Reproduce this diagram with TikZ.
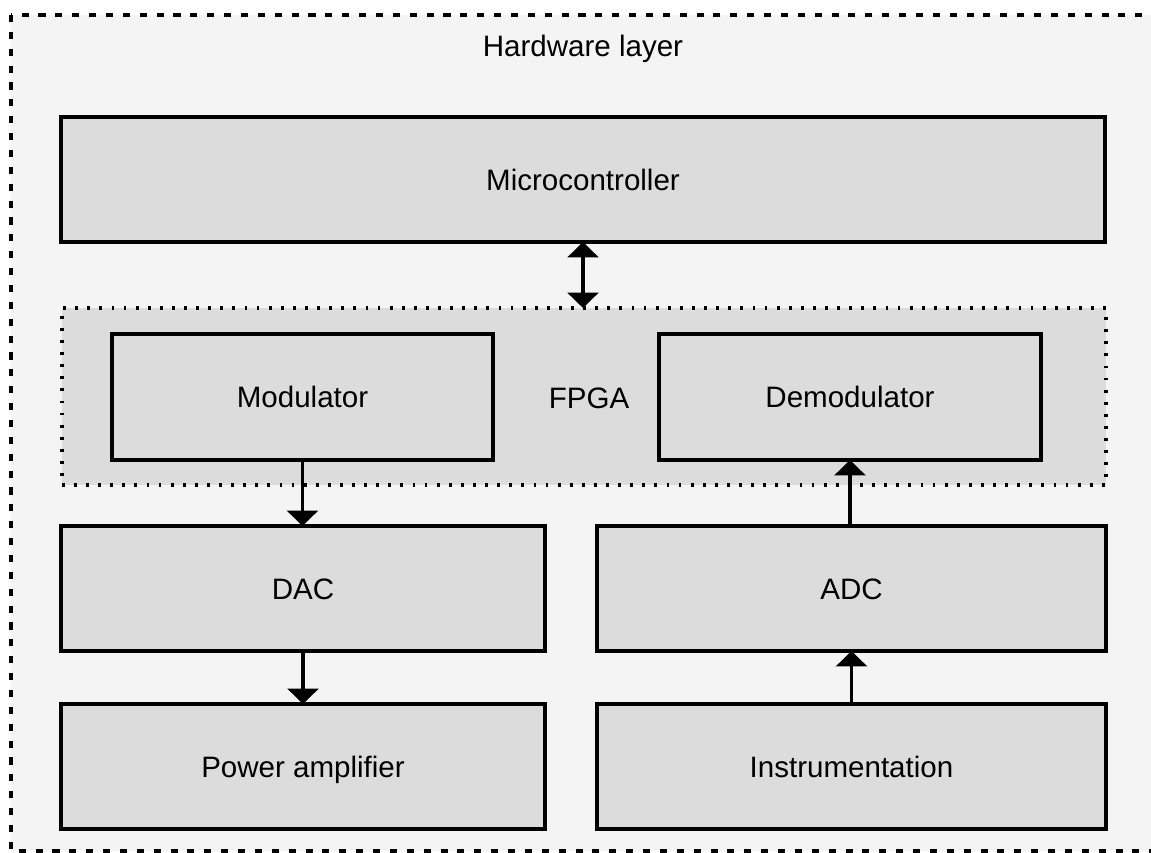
\documentclass[tikz,border=0pt]{standalone}
\usepackage{fontspec}
\setmainfont{Liberation Sans}
\usetikzlibrary{arrows.meta}
\definecolor{layerbg}{HTML}{F4F4F4}
\definecolor{blockbg}{HTML}{DCDCDC}
\begin{document}
\begin{tikzpicture}[x=0.025cm, y=-0.025cm,
    every node/.style={font=\fontsize{21}{25}\selectfont, inner sep=0pt, outer sep=0pt, text height=15pt, text depth=0pt},
    blk/.style={draw, line width=3pt, fill=blockbg, minimum height=3.125cm},
    arr/.style={line width=2.3pt, -{Triangle[width=22pt,length=11pt]}},
    darr/.style={line width=2.3pt, {Triangle[width=22pt,length=11pt]}-{Triangle[width=22pt,length=11pt]}}]
    \useasboundingbox (0,0) rectangle (1151,853);
    % hardware layer
    \path[draw, fill=layerbg, line width=2.6pt, dash pattern=on 5pt off 7pt] (11,15) rectangle (1175,851);
    \node (hw) at (583,46) {Hardware layer};
    % blocks
    \node [blk, minimum width=26.1cm] (mcu) at (583,179.5) {Microcontroller};
    \node [draw, fill=blockbg, line width=2.4pt, dash pattern=on 2pt off 6.6pt, minimum width=26.1cm, minimum height=4.425cm] (fpga) at (584,396.5) {};
    \node (fpgatxt) at (589,398) {FPGA};
    \node [blk, minimum width=9.525cm, minimum height=3.15cm] (mod) at (302.5,397) {Modulator};
    \node [blk, minimum width=9.55cm, minimum height=3.15cm] (dem) at (850,397) {Demodulator};
    \node [blk, minimum width=12.1cm] (dac) at (303,588.5) {DAC};
    \node [blk, minimum width=12.725cm] (adc) at (851.5,588.5) {ADC};
    \node [blk, minimum width=12.1cm] (pa) at (303,766.5) {Power amplifier};
    \node [blk, minimum width=12.725cm] (ins) at (851.5,766.5) {Instrumentation};
    % links
    \path[darr] (mcu.south) edge (mcu.south |- fpga.north);
    \path[arr] (mod.south) edge (mod.south |- dac.north);
    \path[arr] (dac.south) edge (pa.north);
    \path[arr] (adc.north -| dem.south) edge (dem.south);
    \path[arr] (ins.north) edge (adc.south);
\end{tikzpicture}
\end{document}
